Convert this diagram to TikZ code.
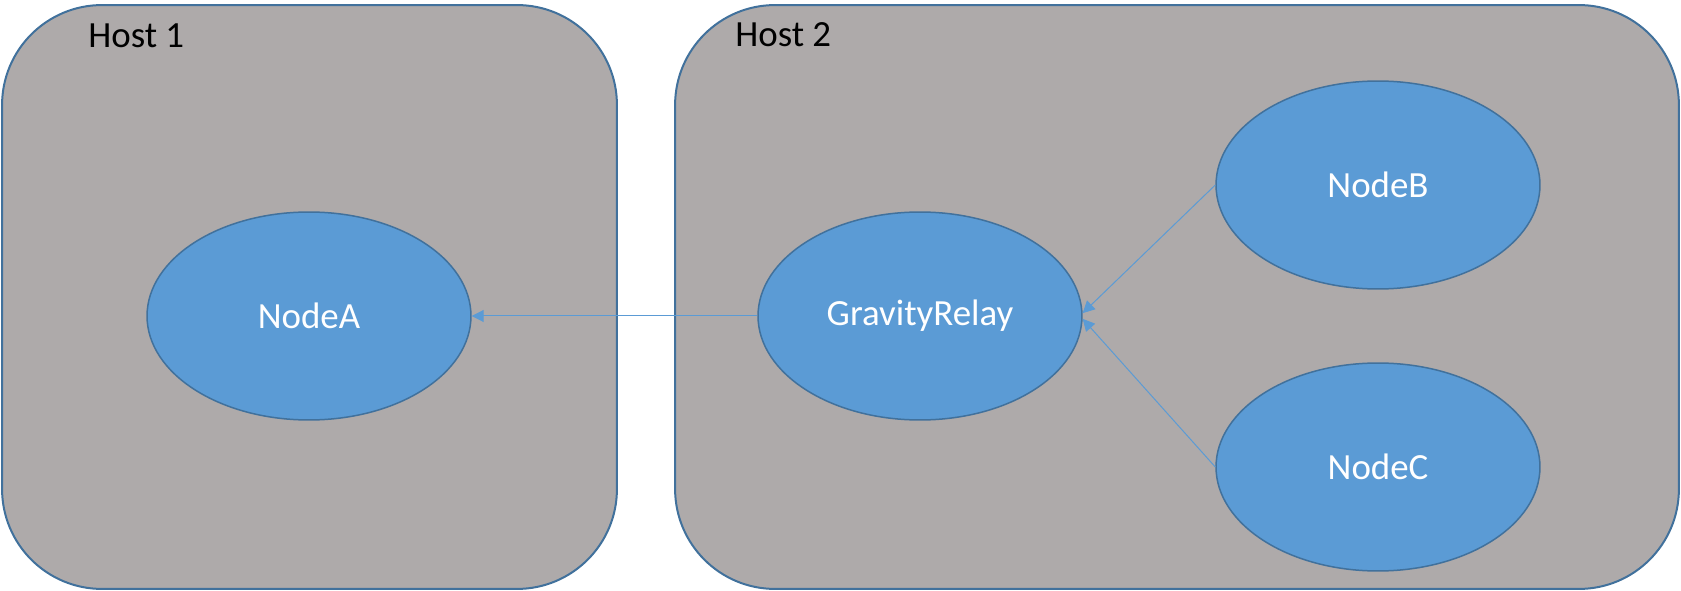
\documentclass[tikz,border=0pt]{standalone}
\usepackage{fontspec}
\setmainfont{Carlito}
\usetikzlibrary{arrows.meta,shapes.geometric}
\definecolor{hostgray}{HTML}{AEAAAA}
\definecolor{edgeblue}{HTML}{41719C}
\definecolor{nodeblue}{HTML}{5B9BD5}
\tikzset{
  hostbox/.style={draw=edgeblue, fill=hostgray, line width=0.04cm, rounded corners=2cm,
    minimum height=11.68cm, inner sep=0pt},
  procnode/.style={ellipse, draw=edgeblue, fill=nodeblue, line width=0.03cm,
    minimum width=6.48cm, minimum height=4.16cm, text=white, font=\fontsize{21}{25}\selectfont},
  hostlabel/.style={anchor=base west, inner sep=0pt, font=\fontsize{21}{25}\selectfont},
  msg/.style={draw=nodeblue, line width=0.02cm, -{Triangle[length=0.24cm,width=0.24cm]}}
}

\begin{document}
\begin{tikzpicture}[x=0.02cm,y=-0.02cm]
\useasboundingbox (0,0) rectangle (1681,591);
% hosts
\node[hostbox, minimum width=12.3cm] (host1) at (309.5,297) {};
\node[hostbox, minimum width=20.08cm] (host2) at (1177,297) {};
\node[hostlabel] (host1label) at (88,48) {Host 1};
\node[hostlabel] (host2label) at (735,47) {Host 2};
% processes
\node[procnode] (nodea) at (309,316) {NodeA};
\node[procnode] (relay) at (920,316) {GravityRelay};
\node[procnode] (nodeb) at (1378,185) {NodeB};
\node[procnode] (nodec) at (1378,467) {NodeC};
% messages
\draw[msg] (relay) -- (nodea);
\draw[msg] (nodeb.west) -- (relay.1.5);
\draw[msg] (nodec.west) -- (relay.-1.5);
\end{tikzpicture}
\end{document}
